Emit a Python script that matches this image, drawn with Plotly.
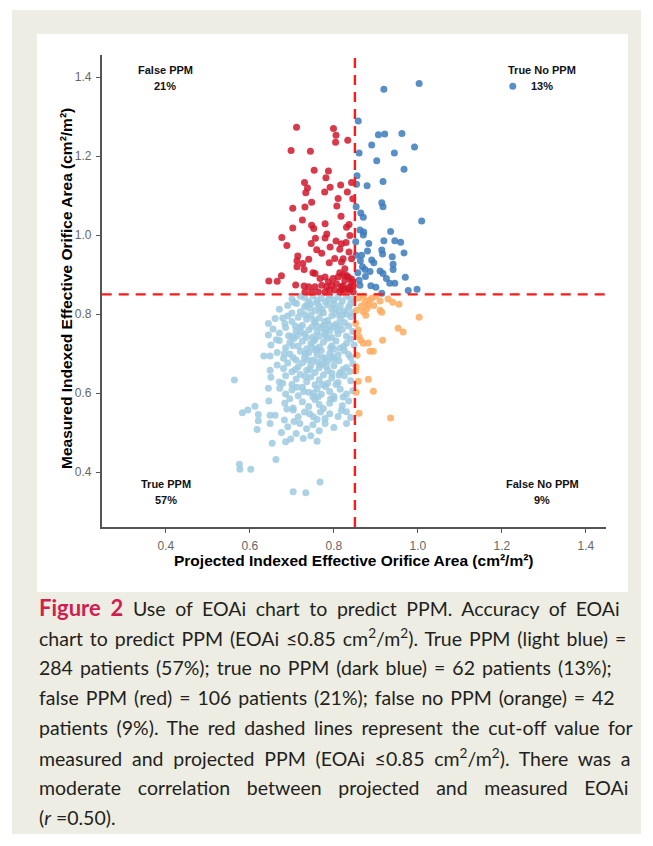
import plotly.graph_objects as go

# page is 653x846; the html body has an 8px margin, so the figure is drawn 8px in
OFF = 8
W, H = 653 - 2 * OFF, 846 - 2 * OFF

# ---------------- data (projected EOAi, measured EOAi) ----------------
false_ppm = [  # red: measured > 0.85, projected <= 0.85
    (0.711, 1.273), (0.799, 1.270), (0.805, 1.253), (0.804, 1.235), (0.833, 1.240), (0.698, 1.214),
    (0.744, 1.212), (0.753, 1.164), (0.787, 1.162), (0.781, 1.145), (0.730, 1.133), (0.737, 1.119),
    (0.733, 1.107), (0.778, 1.109), (0.791, 1.121), (0.816, 1.127), (0.842, 1.133), (0.832, 1.109),
    (0.810, 1.093), (0.845, 1.092), (0.747, 1.083), (0.731, 1.071), (0.702, 1.068), (0.807, 1.074),
    (0.817, 1.048), (0.725, 1.038), (0.747, 1.025), (0.752, 1.017), (0.779, 1.029), (0.702, 1.018),
    (0.836, 1.027), (0.783, 1.003), (0.779, 0.993), (0.756, 0.992), (0.746, 0.979), (0.676, 0.994),
    (0.688, 0.974), (0.805, 0.985), (0.829, 0.981), (0.791, 0.970), (0.759, 0.963), (0.771, 0.954),
    (0.814, 0.964), (0.714, 0.947), (0.740, 0.939), (0.802, 0.941), (0.712, 0.935), (0.726, 0.928),
    (0.789, 0.930), (0.818, 0.932), (0.712, 0.920), (0.729, 0.913), (0.750, 0.905), (0.814, 0.905),
    (0.675, 0.897), (0.645, 0.884), (0.665, 0.883), (0.709, 0.874), (0.729, 0.871),
    (0.830, 1.020), (0.838, 0.999), (0.818, 0.978), (0.836, 0.957), (0.822, 0.940), (0.842, 0.940),
    (0.826, 0.915), (0.830, 0.898), (0.842, 0.889), (0.822, 0.872), (0.834, 0.864), (0.846, 0.872),
    (0.818, 0.861), (0.838, 0.861),
    (0.755, 0.903), (0.767, 0.890), (0.779, 0.894), (0.787, 0.882), (0.798, 0.890), (0.771, 0.873),
    (0.783, 0.869), (0.795, 0.873), (0.806, 0.877), (0.818, 0.869), (0.826, 0.886), (0.755, 0.869),
    (0.763, 0.856), (0.779, 0.856), (0.790, 0.861), (0.802, 0.861), (0.814, 0.856), (0.826, 0.861),
    (0.838, 0.869), (0.846, 0.856), (0.740, 0.869), (0.747, 0.856), (0.731, 0.856), (0.810, 0.894),
    (0.822, 0.899), (0.834, 0.894), (0.842, 0.882),
]

true_no_ppm = [  # dark blue: measured > 0.85, projected > 0.85
    (1.003, 1.384), (0.919, 1.369), (0.858, 1.289), (0.906, 1.254), (0.921, 1.256), (0.962, 1.257),
    (0.890, 1.228), (0.860, 1.208), (0.944, 1.208), (0.992, 1.223), (0.902, 1.188), (0.967, 1.167),
    (0.855, 1.150), (0.917, 1.136), (0.879, 1.125), (0.854, 1.129), (0.914, 1.082), (0.917, 1.072),
    (0.853, 1.072), (0.864, 1.056), (0.870, 1.045), (1.009, 1.036), (0.862, 1.013), (0.871, 1.008),
    (0.935, 1.009), (0.870, 1.000), (0.852, 0.983), (0.883, 0.979), (0.919, 0.986), (0.945, 0.986),
    (0.959, 0.982), (0.914, 0.962), (0.916, 0.952), (0.967, 0.955), (0.853, 0.949), (0.866, 0.949),
    (0.939, 0.945), (0.890, 0.937), (0.868, 0.920), (0.874, 0.913), (0.886, 0.908), (0.910, 0.909),
    (0.941, 0.926), (0.941, 0.913), (0.917, 0.903), (0.925, 0.890), (0.970, 0.893), (0.860, 0.886),
    (0.933, 0.878), (0.945, 0.878), (0.888, 0.872), (0.977, 0.860), (0.998, 0.863), (0.914, 0.853),
    (0.862, 0.873), (0.857, 0.905), (0.875, 0.895), (0.895, 0.930), (0.863, 0.935), (0.900, 0.868),
    (0.880, 0.960), (1.226, 1.377),
]

false_no_ppm = [  # orange: measured <= 0.85, projected > 0.85
    (0.870, 0.845), (0.890, 0.840), (0.884, 0.835), (0.874, 0.830), (0.882, 0.823), (0.910, 0.833),
    (0.929, 0.838), (0.955, 0.825), (0.854, 0.810), (0.870, 0.806), (0.879, 0.814), (0.876, 0.797),
    (0.910, 0.810), (0.914, 0.805), (1.003, 0.792), (0.852, 0.776), (0.953, 0.764), (0.965, 0.755),
    (0.860, 0.743), (0.864, 0.734), (0.870, 0.726), (0.882, 0.727), (0.916, 0.734), (0.886, 0.706),
    (0.894, 0.706), (0.855, 0.696), (0.852, 0.656), (0.853, 0.667), (0.882, 0.635), (0.853, 0.602),
    (0.894, 0.605), (0.860, 0.549), (0.935, 0.537), (0.858, 0.840), (0.900, 0.845), (0.865, 0.820),
    (0.895, 0.822), (0.940, 0.830), (0.858, 0.760), (0.858, 0.630),
]

true_ppm = [  # light blue: measured <= 0.85, projected <= 0.85
    (0.700, 0.838), (0.720, 0.845), (0.740, 0.832), (0.750, 0.846), (0.770, 0.840), (0.780, 0.831),
    (0.790, 0.847), (0.800, 0.836), (0.810, 0.843), (0.820, 0.833), (0.830, 0.846), (0.840, 0.838),
    (0.846, 0.830), (0.760, 0.835), (0.730, 0.842),
    (0.670, 0.812), (0.690, 0.822), (0.711, 0.827), (0.720, 0.806), (0.730, 0.818), (0.745, 0.826),
    (0.755, 0.809), (0.765, 0.820), (0.775, 0.803), (0.785, 0.824), (0.795, 0.812), (0.805, 0.800),
    (0.815, 0.822), (0.825, 0.808), (0.835, 0.817), (0.845, 0.804), (0.700, 0.803), (0.760, 0.828),
    (0.800, 0.826), (0.830, 0.800),
    (0.644, 0.776), (0.660, 0.789), (0.683, 0.776), (0.690, 0.795), (0.700, 0.781), (0.715, 0.792),
    (0.725, 0.772), (0.735, 0.787), (0.745, 0.797), (0.755, 0.779), (0.765, 0.790), (0.775, 0.771),
    (0.785, 0.784), (0.795, 0.796), (0.805, 0.775), (0.815, 0.788), (0.825, 0.779), (0.840, 0.793),
    (0.730, 0.799), (0.760, 0.770), (0.790, 0.772), (0.820, 0.798),
    (0.644, 0.747), (0.655, 0.762), (0.670, 0.752), (0.685, 0.766), (0.700, 0.744), (0.710, 0.758),
    (0.720, 0.767), (0.730, 0.749), (0.740, 0.760), (0.750, 0.742), (0.760, 0.755), (0.770, 0.765),
    (0.780, 0.746), (0.790, 0.758), (0.800, 0.768), (0.810, 0.750), (0.820, 0.761), (0.830, 0.744),
    (0.845, 0.756), (0.735, 0.741), (0.765, 0.744), (0.795, 0.741),
    (0.650, 0.722), (0.670, 0.733), (0.685, 0.715), (0.695, 0.728), (0.705, 0.738), (0.715, 0.719),
    (0.725, 0.731), (0.735, 0.712), (0.745, 0.725), (0.755, 0.736), (0.765, 0.717), (0.775, 0.729),
    (0.785, 0.739), (0.795, 0.720), (0.805, 0.732), (0.815, 0.714), (0.830, 0.726), (0.840, 0.737),
    (0.760, 0.711), (0.800, 0.711),
    (0.633, 0.694), (0.648, 0.694), (0.665, 0.703), (0.680, 0.688), (0.695, 0.699), (0.710, 0.684),
    (0.720, 0.706), (0.730, 0.691), (0.740, 0.702), (0.750, 0.683), (0.760, 0.697), (0.770, 0.708),
    (0.780, 0.689), (0.790, 0.701), (0.800, 0.686), (0.810, 0.697), (0.825, 0.707), (0.840, 0.690),
    (0.755, 0.709), (0.785, 0.681),
    (0.648, 0.658), (0.665, 0.671), (0.680, 0.662), (0.690, 0.676), (0.700, 0.654), (0.715, 0.667),
    (0.725, 0.677), (0.735, 0.658), (0.745, 0.670), (0.755, 0.652), (0.765, 0.664), (0.775, 0.675),
    (0.785, 0.657), (0.800, 0.669), (0.815, 0.652), (0.830, 0.665), (0.845, 0.675), (0.760, 0.679),
    (0.563, 0.633), (0.650, 0.640), (0.670, 0.628), (0.685, 0.644), (0.700, 0.622), (0.710, 0.636),
    (0.720, 0.647), (0.735, 0.629), (0.745, 0.641), (0.755, 0.621), (0.765, 0.634), (0.775, 0.646),
    (0.785, 0.625), (0.795, 0.638), (0.810, 0.627), (0.825, 0.644), (0.840, 0.631),
    (0.644, 0.612), (0.671, 0.612), (0.685, 0.598), (0.700, 0.608), (0.715, 0.593), (0.725, 0.615),
    (0.740, 0.602), (0.750, 0.591), (0.760, 0.611), (0.770, 0.597), (0.780, 0.617), (0.790, 0.604),
    (0.800, 0.592), (0.815, 0.610), (0.830, 0.598), (0.845, 0.606),
    (0.612, 0.567), (0.645, 0.580), (0.683, 0.574), (0.695, 0.586), (0.703, 0.562), (0.725, 0.578),
    (0.740, 0.566), (0.755, 0.584), (0.765, 0.571), (0.775, 0.561), (0.790, 0.574), (0.800, 0.586),
    (0.820, 0.568), (0.835, 0.580),
    (0.582, 0.550), (0.595, 0.557), (0.620, 0.546), (0.648, 0.544), (0.660, 0.544), (0.703, 0.557),
    (0.715, 0.540), (0.730, 0.552), (0.751, 0.540), (0.760, 0.533), (0.779, 0.536), (0.790, 0.548),
    (0.810, 0.541), (0.830, 0.553), (0.840, 0.538),
    (0.617, 0.508), (0.620, 0.530), (0.648, 0.523), (0.682, 0.532), (0.690, 0.515), (0.719, 0.523),
    (0.735, 0.510), (0.750, 0.520), (0.779, 0.523), (0.800, 0.513), (0.830, 0.523),
    (0.653, 0.473), (0.685, 0.477), (0.697, 0.484), (0.710, 0.498), (0.727, 0.485), (0.745, 0.492),
    (0.760, 0.478),
    (0.575, 0.420), (0.576, 0.407), (0.602, 0.407), (0.662, 0.432), (0.703, 0.350), (0.733, 0.348),
    (0.767, 0.375),
    (0.742, 0.815), (0.772, 0.812), (0.802, 0.815), (0.752, 0.785), (0.782, 0.762), (0.812, 0.771),
    (0.722, 0.755), (0.752, 0.732), (0.792, 0.715), (0.732, 0.700), (0.772, 0.690), (0.812, 0.682),
    (0.742, 0.660), (0.782, 0.668), (0.822, 0.660), (0.732, 0.642), (0.772, 0.622), (0.812, 0.646),
    (0.752, 0.600), (0.792, 0.585), (0.822, 0.590), (0.712, 0.615), (0.702, 0.720), (0.692, 0.745),
    (0.682, 0.700),
    (0.705, 0.830), (0.735, 0.823), (0.768, 0.806), (0.788, 0.838), (0.812, 0.808), (0.838, 0.824),
    (0.678, 0.790), (0.708, 0.770), (0.748, 0.768), (0.778, 0.781), (0.808, 0.760), (0.835, 0.770),
    (0.663, 0.735), (0.713, 0.745), (0.748, 0.716), (0.778, 0.752), (0.823, 0.718), (0.848, 0.722),
    (0.703, 0.690), (0.738, 0.684), (0.768, 0.672), (0.796, 0.692), (0.835, 0.698), (0.708, 0.660),
    (0.795, 0.650), (0.838, 0.655), (0.728, 0.604), (0.762, 0.590), (0.805, 0.622), (0.678, 0.625),
    (0.688, 0.560), (0.742, 0.548), (0.768, 0.552), (0.818, 0.556), (0.705, 0.528), (0.765, 0.505),
    (0.675, 0.500),
]

cutoff = 0.85
tick_values = [0.4, 0.6, 0.8, 1.0, 1.2, 1.4]
tick_labels = ["0.4", "0.6", "0.8", "1.0", "1.2", "1.4"]
quadrant_names = ["False PPM", "True No PPM", "True PPM", "False No PPM"]
quadrant_pcts = ["21%", "13%", "57%", "9%"]

x_title = "Projected Indexed Effective Orifice Area (cm²/m²)"
y_title = "Measured Indexed Effective Orifice Area (cm²/m²)"

caption_lines = [
    "<b><span style='color:#d31c4f;font-size:22px'>Figure 2</span></b> Use of EOAi chart to predict PPM. Accuracy of EOAi",
    "chart to predict PPM (EOAi ≤0.85 cm<sup>2</sup>/m<sup>2</sup>). True PPM (light blue) =",
    "284 patients (57%); true no PPM (dark blue) = 62 patients (13%);",
    "false PPM (red) = 106 patients (21%); false no PPM (orange) = 42",
    "patients (9%). The red dashed lines represent the cut-off value for",
    "measured and projected PPM (EOAi ≤0.85 cm<sup>2</sup>/m<sup>2</sup>). There was a",
    "moderate correlation between projected and measured EOAi",
    "(<i>r</i> =0.50).",
]
# extra space between words (px) to justify each caption line to the column width
caption_word_gap = [4.6, 1.9, 2.0, 1.9, 3.6, 4.8, 11.7, 0]


# ---------------- helpers (page pixel -> paper) ----------------
def PX(p):
    return (p - OFF) / W


def PY(p):
    return 1 - (p - OFF) / H


fig = go.Figure()

series = [
    (true_ppm, "#9ecae1"),
    (false_no_ppm, "#fdab60"),
    (true_no_ppm, "#3c7bbd"),
    (false_ppm, "#d2172b"),
]
for pts, col in series:
    fig.add_trace(go.Scatter(
        x=[p[0] for p in pts], y=[p[1] for p in pts], mode="markers",
        marker=dict(size=7, color=col, opacity=0.85, line=dict(width=0)),
        hoverinfo="skip", showlegend=False,
    ))

shapes = [
    dict(type="rect", xref="paper", yref="paper", x0=PX(12), x1=PX(641), y0=PY(834), y1=PY(10),
         fillcolor="#eeede3", line=dict(width=0), layer="below"),
    dict(type="rect", xref="paper", yref="paper", x0=PX(37), x1=PX(628), y0=PY(592), y1=PY(34),
         fillcolor="#ffffff", line=dict(width=0), layer="below"),
    dict(type="line", xref="x", yref="y domain", x0=cutoff, x1=cutoff, y0=0, y1=1,
         line=dict(color="#ff1a1a", width=2.4, dash="10px,7px"), layer="above"),
    dict(type="line", xref="x domain", yref="y", x0=0, x1=1, y0=cutoff, y1=cutoff,
         line=dict(color="#ff1a1a", width=2.4, dash="10px,7px"), layer="above"),
]

annotations = []
chart_font = "Liberation Sans, Arial, sans-serif"
q_pos = [(165, 70, 86), (542, 70, 86), (166, 484, 500), (542, 484, 500)]
for (cx, y1, y2), name, pct in zip(q_pos, quadrant_names, quadrant_pcts):
    for yy, t in ((y1, name), (y2, pct)):
        annotations.append(dict(x=PX(cx), y=PY(yy), xref="paper", yref="paper", text="<b>%s</b>" % t,
                                showarrow=False, xanchor="center", yanchor="middle",
                                font=dict(family=chart_font, size=11, color="#111111")))

annotations.append(dict(x=PX(353), y=PY(560), xref="paper", yref="paper", text="<b>%s</b>" % x_title,
                        showarrow=False, xanchor="center", yanchor="middle",
                        font=dict(family=chart_font, size=15.5, color="#000000")))
annotations.append(dict(x=PX(66), y=PY(289), xref="paper", yref="paper", text="<b>%s</b>" % y_title,
                        showarrow=False, xanchor="center", yanchor="middle", textangle=-90,
                        font=dict(family=chart_font, size=15.5, color="#000000")))

cap_font = dict(family="Lato, 'Open Sans', sans-serif", size=19.5, color="#231f20")
for i, (line, gap) in enumerate(zip(caption_lines, caption_word_gap)):
    yc = 607 + 30.1 * i
    text = "<span style='word-spacing:%.1fpx'>%s</span>" % (gap, line) if gap else line
    annotations.append(dict(x=PX(37), y=PY(yc), xref="paper", yref="paper", text=text, showarrow=False,
                            xanchor="left", yanchor="middle", font=cap_font))

axis_common = dict(
    showgrid=False, zeroline=False, showline=True, linecolor="#555555", linewidth=1.8,
    ticks="outside", ticklen=4, tickwidth=1.2, tickcolor="#555555",
    tickvals=tick_values, ticktext=tick_labels,
    tickfont=dict(family=chart_font, size=12, color="#666666"),
)

fig.update_layout(
    width=W, height=H, margin=dict(l=0, r=0, t=0, b=0), autosize=False,
    paper_bgcolor="#ffffff", plot_bgcolor="rgba(0,0,0,0)",
    xaxis=dict(domain=[PX(101.7), PX(606)], range=[0.247, 1.448], ticklabelstandoff=3, **axis_common),
    yaxis=dict(domain=[PY(527), PY(55)], range=[0.261, 1.456], ticklabelstandoff=2, **axis_common),
    shapes=shapes, annotations=annotations, showlegend=False,
)

fig.write_html("out.html")
